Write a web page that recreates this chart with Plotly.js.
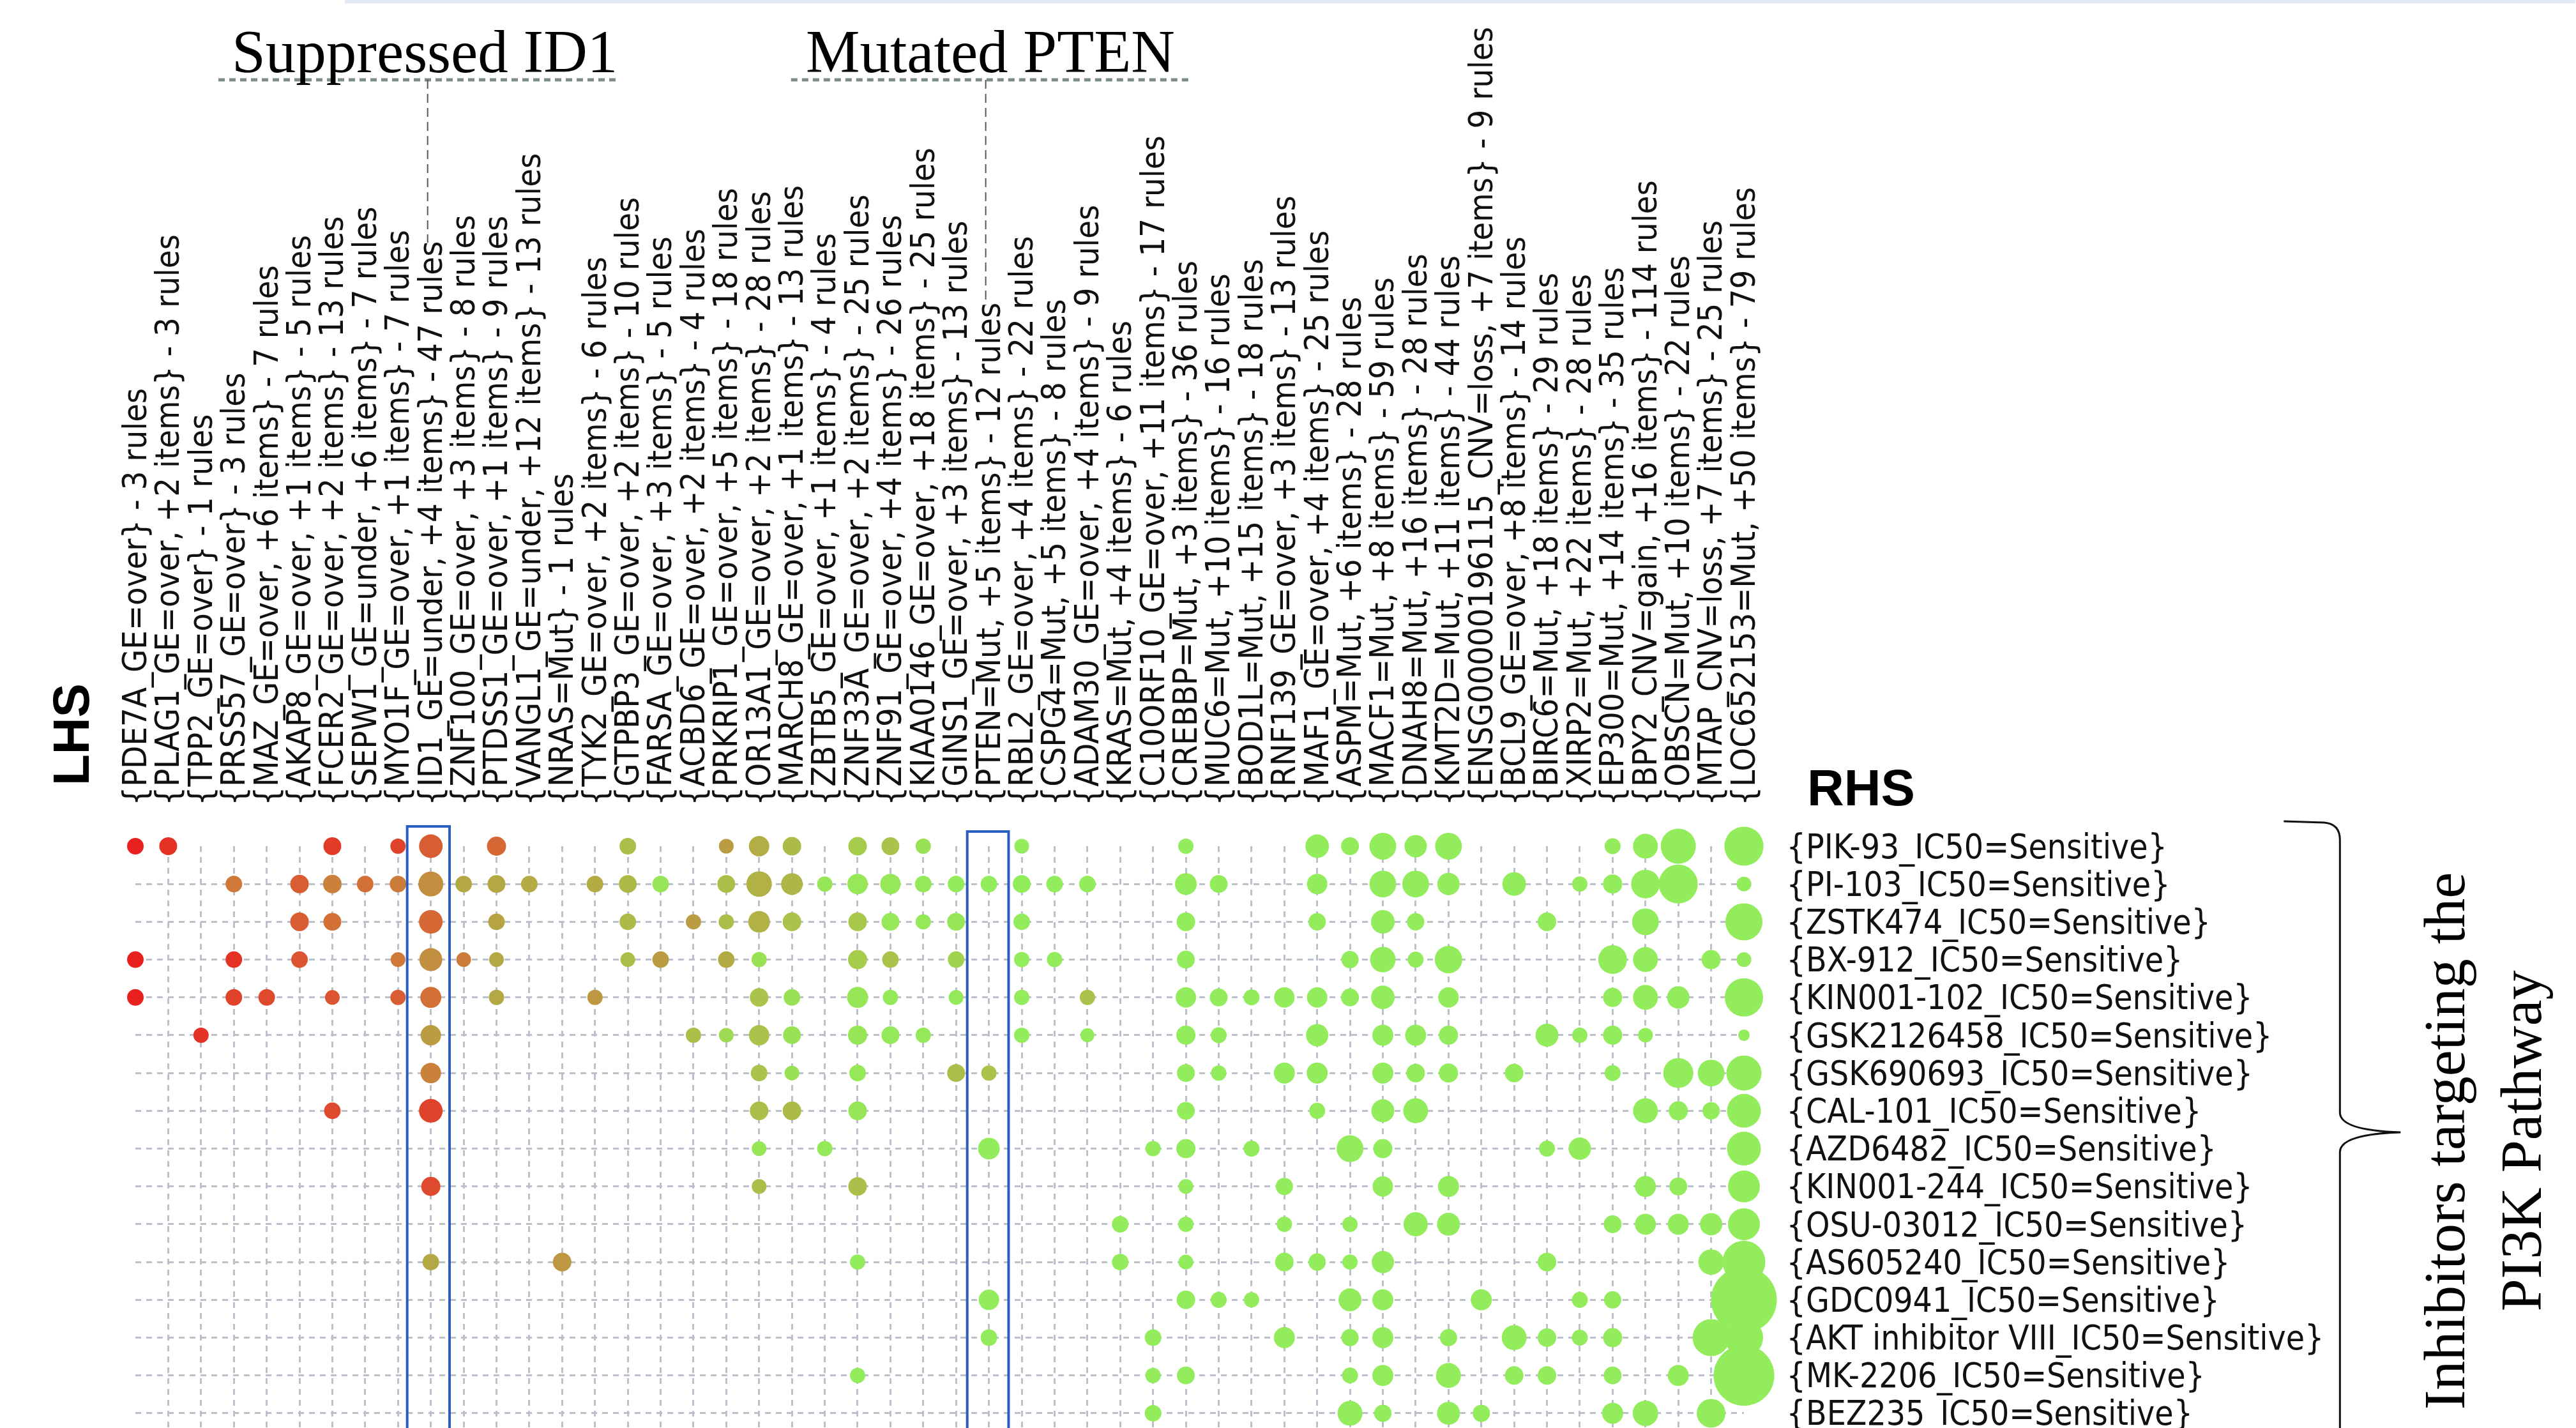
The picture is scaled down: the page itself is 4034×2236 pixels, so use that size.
<!DOCTYPE html>
<html>
<head>
<meta charset="utf-8">
<script src="https://cdn.plot.ly/plotly-3.0.1.min.js"></script>
<style>html,body{margin:0;padding:0;background:#fff;}#chart{width:4034px;height:2236px;}</style>
</head>
<body>
<div id="chart"></div>
<script>
// ---------- DATA ----------
const lhsLabels = [
"{PDE7A_GE=over} - 3 rules",
"{PLAG1_GE=over, +2 items} - 3 rules",
"{TPP2_GE=over} - 1 rules",
"{PRSS57_GE=over} - 3 rules",
"{MAZ_GE=over, +6 items} - 7 rules",
"{AKAP8_GE=over, +1 items} - 5 rules",
"{FCER2_GE=over, +2 items} - 13 rules",
"{SEPW1_GE=under, +6 items} - 7 rules",
"{MYO1F_GE=over, +1 items} - 7 rules",
"{ID1_GE=under, +4 items} - 47 rules",
"{ZNF100_GE=over, +3 items} - 8 rules",
"{PTDSS1_GE=over, +1 items} - 9 rules",
"{VANGL1_GE=under, +12 items} - 13 rules",
"{NRAS=Mut} - 1 rules",
"{TYK2_GE=over, +2 items} - 6 rules",
"{GTPBP3_GE=over, +2 items} - 10 rules",
"{FARSA_GE=over, +3 items} - 5 rules",
"{ACBD6_GE=over, +2 items} - 4 rules",
"{PRKRIP1_GE=over, +5 items} - 18 rules",
"{OR13A1_GE=over, +2 items} - 28 rules",
"{MARCH8_GE=over, +1 items} - 13 rules",
"{ZBTB5_GE=over, +1 items} - 4 rules",
"{ZNF33A_GE=over, +2 items} - 25 rules",
"{ZNF91_GE=over, +4 items} - 26 rules",
"{KIAA0146_GE=over, +18 items} - 25 rules",
"{GINS1_GE=over, +3 items} - 13 rules",
"{PTEN=Mut, +5 items} - 12 rules",
"{RBL2_GE=over, +4 items} - 22 rules",
"{CSPG4=Mut, +5 items} - 8 rules",
"{ADAM30_GE=over, +4 items} - 9 rules",
"{KRAS=Mut, +4 items} - 6 rules",
"{C10ORF10_GE=over, +11 items} - 17 rules",
"{CREBBP=Mut, +3 items} - 36 rules",
"{MUC6=Mut, +10 items} - 16 rules",
"{BOD1L=Mut, +15 items} - 18 rules",
"{RNF139_GE=over, +3 items} - 13 rules",
"{MAF1_GE=over, +4 items} - 25 rules",
"{ASPM=Mut, +6 items} - 28 rules",
"{MACF1=Mut, +8 items} - 59 rules",
"{DNAH8=Mut, +16 items} - 28 rules",
"{KMT2D=Mut, +11 items} - 44 rules",
"{ENSG00000196115_CNV=loss, +7 items} - 9 rules",
"{BCL9_GE=over, +8 items} - 14 rules",
"{BIRC6=Mut, +18 items} - 29 rules",
"{XIRP2=Mut, +22 items} - 28 rules",
"{EP300=Mut, +14 items} - 35 rules",
"{BPY2_CNV=gain, +16 items} - 114 rules",
"{OBSCN=Mut, +10 items} - 22 rules",
"{MTAP_CNV=loss, +7 items} - 25 rules",
"{LOC652153=Mut, +50 items} - 79 rules"
];

const rhsLabels = [
"{PIK-93_IC50=Sensitive}",
"{PI-103_IC50=Sensitive}",
"{ZSTK474_IC50=Sensitive}",
"{BX-912_IC50=Sensitive}",
"{KIN001-102_IC50=Sensitive}",
"{GSK2126458_IC50=Sensitive}",
"{GSK690693_IC50=Sensitive}",
"{CAL-101_IC50=Sensitive}",
"{AZD6482_IC50=Sensitive}",
"{KIN001-244_IC50=Sensitive}",
"{OSU-03012_IC50=Sensitive}",
"{AS605240_IC50=Sensitive}",
"{GDC0941_IC50=Sensitive}",
"{AKT inhibitor VIII_IC50=Sensitive}",
"{MK-2206_IC50=Sensitive}",
"{BEZ235_IC50=Sensitive}"
];

// each entry: [LHS group number (1-based), support, lift]
const rulesPIK93 = [[1,1.08,2.0],[2,1.25,1.95],[7,1.25,1.92],[9,0.92,1.9],[10,2.19,1.82],[12,1.44,1.78],[16,1.08,1.38],[19,0.85,1.55],[20,1.64,1.47],[21,1.35,1.4],[23,1.35,1.3],[24,1.25,1.35],[25,0.92,1.15],[28,0.85,1.05],[33,0.92,1.05],[37,2.19,1.05],[38,1.25,1.05],[39,2.82,1.05],[40,1.96,1.05],[41,2.82,1.05],[46,1.0,1.05],[47,2.43,1.05],[48,4.84,1.05],[50,6.0,1.05]];
const rulesPI103 = [[4,1.08,1.72],[6,1.35,1.82],[7,1.35,1.68],[8,1.08,1.75],[9,1.08,1.7],[10,2.43,1.62],[11,1.08,1.5],[12,1.25,1.5],[13,1.08,1.48],[15,1.08,1.48],[16,1.25,1.4],[17,1.08,1.12],[19,1.25,1.38],[20,2.56,1.45],[21,1.85,1.42],[22,0.92,1.12],[23,1.64,1.1],[24,1.64,1.1],[25,1.08,1.08],[26,1.08,1.05],[27,1.08,1.05],[28,1.25,1.05],[29,1.08,1.05],[30,1.08,1.05],[33,1.85,1.05],[34,1.25,1.05],[37,1.64,1.05],[39,2.82,1.05],[40,2.82,1.05],[41,1.96,1.05],[43,2.19,1.05],[45,0.92,1.05],[46,1.44,1.05],[47,3.24,1.05],[48,5.95,1.05],[50,0.85,1.05]];
const rulesZSTK474 = [[6,1.35,1.82],[7,1.25,1.75],[10,2.19,1.78],[12,1.08,1.52],[16,1.08,1.4],[18,0.92,1.55],[19,0.92,1.38],[20,1.85,1.45],[21,1.35,1.35],[23,1.35,1.32],[24,1.25,1.1],[25,0.92,1.08],[26,1.25,1.12],[28,1.08,1.05],[33,1.35,1.05],[37,1.17,1.05],[39,2.19,1.05],[40,1.17,1.05],[44,1.35,1.05],[47,2.82,1.05],[50,5.38,1.05]];
const rulesBX912 = [[1,1.08,2.0],[4,1.08,1.95],[6,1.08,1.85],[9,0.85,1.72],[10,2.07,1.62],[11,0.85,1.7],[12,0.85,1.5],[16,0.85,1.38],[17,1.08,1.55],[19,1.08,1.48],[20,0.92,1.15],[23,1.44,1.3],[24,1.08,1.35],[26,1.08,1.25],[28,0.92,1.05],[29,0.92,1.05],[33,1.25,1.05],[38,1.17,1.05],[39,2.56,1.05],[40,1.0,1.05],[41,2.96,1.05],[46,3.24,1.05],[47,2.43,1.05],[49,1.44,1.05],[50,0.85,1.05]];
const rulesKIN001102 = [[1,1.08,2.0],[4,1.08,1.9],[5,1.08,1.88],[7,0.85,1.85],[9,0.92,1.82],[10,1.74,1.75],[12,0.92,1.5],[15,0.92,1.58],[20,1.35,1.35],[21,1.08,1.15],[23,1.74,1.12],[24,0.92,1.08],[26,0.85,1.08],[28,0.92,1.05],[30,0.92,1.35],[33,1.64,1.05],[34,1.25,1.05],[35,1.0,1.05],[36,1.64,1.05],[37,1.64,1.05],[38,1.25,1.05],[39,2.19,1.05],[41,1.64,1.05],[46,1.44,1.05],[47,2.43,1.05],[48,1.96,1.05],[50,5.76,1.05]];
const rulesGSK2126458 = [[3,0.92,1.95],[10,1.64,1.55],[18,0.92,1.38],[19,0.85,1.2],[20,1.64,1.35],[21,1.25,1.15],[23,1.44,1.12],[24,1.25,1.08],[25,0.92,1.08],[28,0.92,1.05],[30,0.77,1.05],[33,1.44,1.05],[34,1.0,1.05],[37,1.96,1.05],[39,1.74,1.05],[40,1.74,1.05],[41,1.44,1.05],[44,2.07,1.05],[45,0.92,1.05],[46,1.44,1.05],[47,0.85,1.05],[50,0.52,1.05]];
const rulesGSK690693 = [[10,1.64,1.68],[20,1.08,1.35],[21,0.85,1.15],[23,1.08,1.1],[26,1.25,1.38],[27,0.92,1.35],[33,1.25,1.05],[34,0.92,1.05],[36,1.74,1.05],[37,1.74,1.05],[39,1.74,1.05],[40,1.35,1.05],[41,1.44,1.05],[43,1.35,1.05],[46,1.0,1.05],[48,3.53,1.05],[49,2.82,1.05],[50,4.84,1.05]];
const rulesCAL101 = [[7,1.08,1.88],[10,2.19,1.9],[20,1.35,1.38],[21,1.35,1.4],[23,1.35,1.12],[33,1.25,1.05],[37,1.0,1.05],[39,2.07,1.05],[40,2.43,1.05],[47,2.43,1.05],[48,1.44,1.05],[49,1.17,1.05],[50,4.49,1.05]];
const rulesAZD6482 = [[20,0.85,1.12],[22,0.92,1.08],[27,1.85,1.05],[32,0.92,1.05],[33,1.44,1.05],[35,1.0,1.05],[38,2.82,1.05],[39,1.44,1.05],[44,1.0,1.05],[45,1.96,1.05],[50,4.49,1.05]];
const rulesKIN001244 = [[10,1.44,1.88],[20,0.85,1.38],[23,1.35,1.38],[33,0.85,1.05],[36,1.17,1.05],[39,1.64,1.05],[41,1.74,1.05],[47,1.74,1.05],[48,1.25,1.05],[50,4.0,1.05]];
const rulesOSU03012 = [[31,1.08,1.05],[33,0.92,1.05],[36,0.92,1.05],[38,0.92,1.05],[40,2.31,1.05],[41,2.07,1.05],[46,1.25,1.05],[47,1.74,1.05],[48,1.74,1.05],[49,1.96,1.05],[50,4.0,1.05]];
const rulesAS605240 = [[10,1.08,1.5],[14,1.35,1.58],[23,0.92,1.05],[31,1.08,1.05],[33,0.85,1.05],[36,1.35,1.05],[37,1.17,1.05],[38,0.92,1.05],[39,1.96,1.05],[44,1.35,1.05],[49,2.56,1.05],[50,7.18,1.05]];
const rulesGDC0941 = [[27,1.64,1.05],[33,1.35,1.05],[34,1.0,1.05],[35,0.92,1.05],[38,2.07,1.05],[39,1.74,1.05],[42,1.74,1.05],[45,1.0,1.05],[46,1.17,1.05],[50,16.97,1.05]];
const rulesAKTVIII = [[27,1.08,1.05],[32,1.08,1.05],[36,1.74,1.05],[38,1.17,1.05],[39,1.74,1.05],[41,1.17,1.05],[43,2.43,1.05],[44,1.35,1.05],[45,1.0,1.05],[46,1.44,1.05],[49,5.38,1.05],[50,5.76,1.05]];
const rulesMK2206 = [[23,0.92,1.05],[32,0.92,1.05],[33,1.25,1.05],[38,1.0,1.05],[39,1.74,1.05],[41,2.43,1.05],[43,1.35,1.05],[44,1.35,1.05],[46,1.25,1.05],[48,1.74,1.05],[50,14.44,1.05]];
const rulesBEZ235 = [[32,1.08,1.05],[38,2.43,1.05],[39,1.17,1.05],[41,2.07,1.05],[42,1.17,1.05],[46,1.74,1.05],[47,2.56,1.05],[49,3.24,1.05]];

const rulesByRhs = [rulesPIK93, rulesPI103, rulesZSTK474, rulesBX912, rulesKIN001102, rulesGSK2126458,
  rulesGSK690693, rulesCAL101, rulesAZD6482, rulesKIN001244, rulesOSU03012, rulesAS605240,
  rulesGDC0941, rulesAKTVIII, rulesMK2206, rulesBEZ235];

// ---------- BUILD ----------
const xs = [], ys = [], sup = [], lift = [], txt = [];
rulesByRhs.forEach((arr, ri) => {
  arr.forEach(([c, s, l]) => {
    xs.push(c); ys.push(ri + 1); sup.push(s); lift.push(l);
    txt.push(lhsLabels[c - 1] + ' → ' + rhsLabels[ri]);
  });
});
const maxSup = Math.max(...sup);
const MAX_D = 103;

const W = 4034, H = 2236;
const PL = 212, PR = 2731.5, PT = 1325, PB = 2236;
const nCol = lhsLabels.length;
const yMaxVis = 16.39;
const px2x = px => (px - PL) / (PR - PL);
const px2y = py => (PB - py) / (PB - PT);
const colPx = c => PL + (c - 1) * (PR - PL) / (nCol - 1);

const NARROW = "'Liberation Sans Narrow', 'Arial Narrow', 'DejaVu Sans Condensed', sans-serif";
const SERIF = "'Liberation Serif', 'Times New Roman', serif";

const trace = {
  type: 'scatter', mode: 'markers', x: xs, y: ys, text: txt, hoverinfo: 'text',
  cliponaxis: false,
  marker: {
    size: sup, sizemode: 'area', sizeref: 2 * maxSup / (MAX_D * MAX_D),
    color: lift, cmin: 1.0, cmax: 2.0,
    colorscale: [[0, '#8ff05e'], [0.12, '#97e657'], [0.3, '#a6cc4c'], [0.5, '#b4a844'],
                 [0.62, '#c28e40'], [0.72, '#cf7838'], [0.85, '#dc5530'], [1, '#e82020']],
    line: {width: 0}, opacity: 1, showscale: false
  }
};

const idxID1 = lhsLabels.findIndex(s => s.startsWith('{ID1_')) + 1;
const idxPTEN = lhsLabels.findIndex(s => s.startsWith('{PTEN=')) + 1;

const shapes = [];
// faint top border
shapes.push({type:'line', xref:'paper', yref:'paper', x0:px2x(540), x1:px2x(W), y0:px2y(2), y1:px2y(2),
  line:{color:'#e2ebf4', width:7}});
// highlight boxes
[[idxID1, 0.72, 0.57, 1294], [idxPTEN, 0.66, 0.6, 1302]].forEach(([c, l, r, top]) => {
  shapes.push({type:'rect', xref:'paper', yref:'paper',
    x0: px2x(colPx(c - l)), x1: px2x(colPx(c + r)), y0: px2y(top), y1: -0.1,
    line:{color:'#2b5cc0', width:4}, fillcolor:'rgba(0,0,0,0)'});
});
// callout underlines + connectors
[[idxID1, 342, 966, 380], [idxPTEN, 1239, 1863, 478]].forEach(([c, a, b, endY]) => {
  shapes.push({type:'line', xref:'paper', yref:'paper', x0:px2x(a), x1:px2x(b), y0:px2y(125), y1:px2y(125),
    line:{color:'#7b8a8a', width:5, dash:'10px,7px'}});
  const xc = colPx(c) - 5;
  shapes.push({type:'line', xref:'paper', yref:'paper', x0:px2x(xc), x1:px2x(xc), y0:px2y(125), y1:px2y(endY),
    line:{color:'#555555', width:2, dash:'14px,8px'}});
});
// right brace
const bp = [[3577,1286],[3640,1288],[3665,1290],[3665,1315],[3665,1742],[3665,1770],[3760,1773],[3665,1776],[3665,1804],[3665,2300]];
const P = ([x, y]) => px2x(x).toFixed(5) + ',' + px2y(y).toFixed(5);
const bracePath = 'M' + P(bp[0]) + ' L' + P(bp[1]) + ' Q' + P(bp[2]) + ' ' + P(bp[3]) +
  ' L' + P(bp[4]) + ' Q' + P(bp[5]) + ' ' + P(bp[6]) + ' Q' + P(bp[7]) + ' ' + P(bp[8]) + ' L' + P(bp[9]);
shapes.push({type:'path', xref:'paper', yref:'paper', path: bracePath, line:{color:'#111', width:3}});

const annotations = [
  {text:'Suppressed ID1', xref:'paper', yref:'paper', x:px2x(665), y:px2y(81), xanchor:'center', yanchor:'middle',
   showarrow:false, font:{family:SERIF, size:95, color:'#000'}},
  {text:'Mutated PTEN', xref:'paper', yref:'paper', x:px2x(1551), y:px2y(81), xanchor:'center', yanchor:'middle',
   showarrow:false, font:{family:SERIF, size:95, color:'#000'}},
  {text:'<b>LHS</b>', xref:'paper', yref:'paper', x:px2x(111), y:px2y(1150), xanchor:'center', yanchor:'middle',
   textangle:-90, showarrow:false, font:{family:"'Liberation Sans', Arial, sans-serif", size:80, color:'#000'}},
  {text:'<b>RHS</b>', xref:'paper', yref:'paper', x:px2x(2915), y:px2y(1233), xanchor:'center', yanchor:'middle',
   showarrow:false, font:{family:"'Liberation Sans', Arial, sans-serif", size:80, color:'#000'}},
  {text:'Inhibitors targeting the<br>PI3K Pathway', xref:'paper', yref:'paper', x:px2x(3889), y:px2y(1787),
   xanchor:'center', yanchor:'middle', textangle:-90, showarrow:false,
   font:{family:SERIF, size:92, color:'#000'}}
];

const axisCommon = {
  showgrid:true, gridcolor:'#bcc0ca', gridwidth:3, griddash:'9px,8px',
  zeroline:false, showline:false, ticks:'outside', tickcolor:'rgba(0,0,0,0)',
  ticklabeloverflow:'allow', fixedrange:true
};

const layout = {
  width: W, height: H,
  margin: {l: PL, r: W - PR, t: PT, b: H - PB, pad: 0},
  paper_bgcolor:'#ffffff', plot_bgcolor:'#ffffff', showlegend:false,
  xaxis: Object.assign({}, axisCommon, {
    range:[1, nCol], autorange:false, side:'top', tickangle:-90, ticklen:52,
    tickfont:{family:NARROW, size:52, color:'#111'},
    tickmode:'array', tickvals: lhsLabels.map((_, i) => i + 1), ticktext: lhsLabels
  }),
  yaxis: Object.assign({}, axisCommon, {
    range:[yMaxVis, 1], autorange:false, side:'right', ticklen:55,
    tickfont:{family:NARROW, size:53, color:'#111'},
    tickmode:'array', tickvals: rhsLabels.map((_, i) => i + 1), ticktext: rhsLabels
  }),
  shapes: shapes, annotations: annotations
};

Plotly.newPlot('chart', [trace], layout, {displayModeBar:false, responsive:false});
</script>
</body>
</html>
